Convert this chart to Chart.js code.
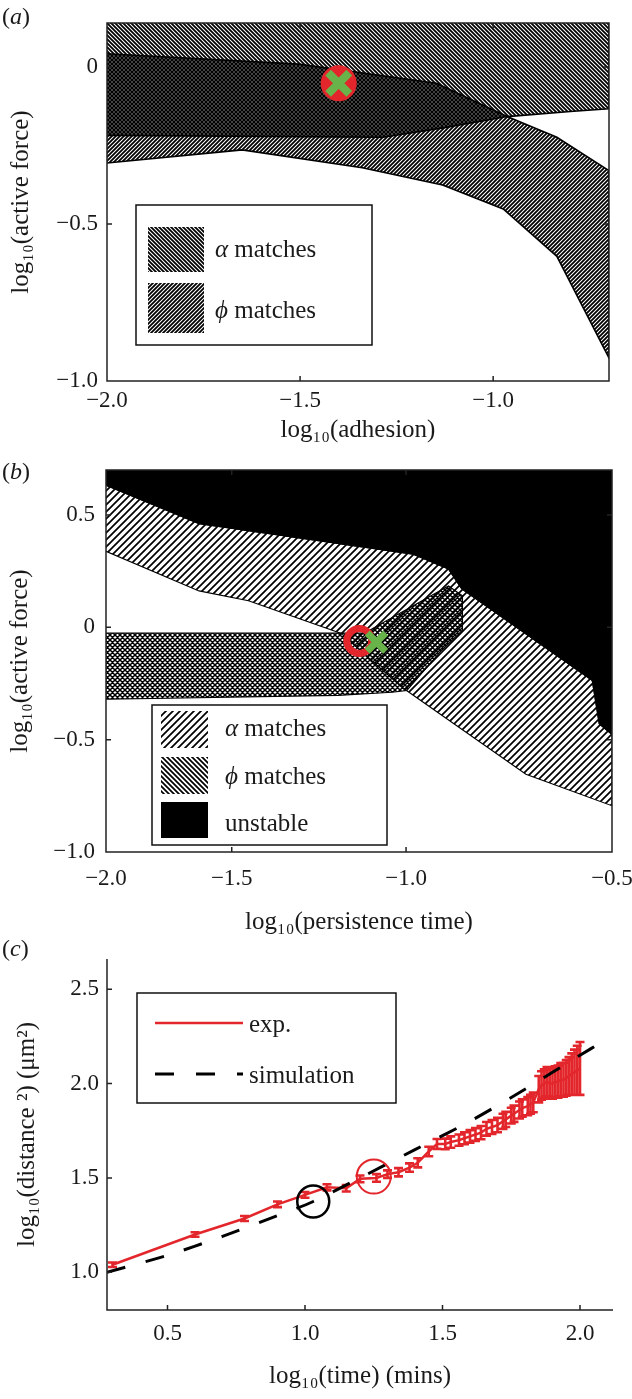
<!DOCTYPE html>
<html><head><meta charset="utf-8">
<script src="https://cdn.jsdelivr.net/npm/chart.js@4.4.1/dist/chart.umd.min.js"></script>
<style>
html,body{margin:0;padding:0;background:#fff;}
#wrap{position:relative;width:632px;height:1399px;overflow:hidden;background:#fff;}
canvas{position:absolute;left:0;}
</style></head><body>
<div id="wrap">
<canvas id="ca" width="632" height="450" style="top:0;width:632px;height:450px"></canvas>
<canvas id="cb" width="632" height="490" style="top:450px;width:632px;height:490px"></canvas>
<canvas id="cc" width="632" height="459" style="top:940px;width:632px;height:459px"></canvas>
</div>
<script>
// ---------------- Panel (a) data ----------------
const aAlphaX = [-2.0, -0.7, -0.7, -0.80, -0.964, -1.13, -1.285, -2.0];
const aAlphaY = [0.30, 0.30, -0.133, -0.142, -0.158, -0.194, -0.224, -0.218];
const aPhiX = [-2.0, -1.504, -1.147, -0.964, -0.835, -0.70, -0.70, -0.835, -0.974, -1.131, -1.339, -1.650, -2.0];
const aPhiY = [0.042, 0.009, -0.052, -0.158, -0.224, -0.330, -0.927, -0.603, -0.452, -0.376, -0.321, -0.264, -0.306];
const aMarkerX = [-1.40];
const aMarkerY = [-0.052];
const aXTicks = [-2.0, -1.5, -1.0];
const aXTickLabels = ['\u22122.0', '\u22121.5', '\u22121.0'];
const aYTicks = [-1.0, -0.5, 0];
const aYTickLabels = ['\u22121.0', '\u22120.5', '0'];

// ---------------- Panel (b) data ----------------
const bUnstableX = [-2.0, -1.630, -0.983, -0.897, -0.865, -0.548, -0.531, -0.5, -0.5, -2.0];
const bUnstableY = [0.632, 0.461, 0.325, 0.259, 0.171, -0.237, -0.430, -0.478, 0.80, 0.80];
const bAlphaX = [-2.0, -1.630, -0.983, -0.897, -0.865, -0.548, -0.531, -0.5, -0.5, -0.709, -1.011, -1.1875, -1.452, -1.630, -2.0];
const bAlphaY = [0.632, 0.461, 0.325, 0.259, 0.171, -0.237, -0.430, -0.478, -0.794, -0.654, -0.268, -0.026, 0.118, 0.162, 0.338];
const bPhiX = [-2.0, -1.12, -0.897, -0.863, -0.863, -0.913, -0.998, -1.040, -1.196, -2.0];
const bPhiY = [-0.026, -0.026, 0.184, 0.140, -0.013, -0.101, -0.281, -0.289, -0.303, -0.320];
const bRingX = [-1.134];
const bRingY = [-0.061];
const bCrossX = [-1.085];
const bCrossY = [-0.066];
const bXTicks = [-2.0, -1.5, -1.0, -0.5];
const bXTickLabels = ['\u22122.0', '\u22121.5', '\u22121.0', '\u22120.5'];
const bYTicks = [-1.0, -0.5, 0, 0.5];
const bYTickLabels = ['\u22121.0', '\u22120.5', '0', '0.5'];

// ---------------- Panel (c) data ----------------
const cExpX = [0.30, 0.60, 0.78, 0.90, 1.00, 1.08, 1.15, 1.20, 1.26, 1.30, 1.34, 1.38, 1.41, 1.45, 1.48, 1.51, 1.53, 1.56, 1.58, 1.60, 1.62, 1.64, 1.66, 1.68, 1.70, 1.72, 1.73, 1.75, 1.76, 1.78, 1.79, 1.81, 1.82, 1.83, 1.85, 1.86, 1.87, 1.88, 1.89, 1.90, 1.91, 1.92, 1.93, 1.94, 1.95, 1.96, 1.97, 1.98, 1.99, 2.00];
const cExpY = [1.04, 1.20, 1.285, 1.36, 1.41, 1.45, 1.445, 1.495, 1.50, 1.52, 1.53, 1.555, 1.58, 1.64, 1.68, 1.68, 1.69, 1.70, 1.71, 1.72, 1.73, 1.74, 1.76, 1.77, 1.78, 1.80, 1.81, 1.83, 1.84, 1.86, 1.87, 1.88, 1.89, 1.90, 1.97, 1.99, 2.00, 2.01, 2.00, 2.00, 2.01, 2.01, 2.02, 2.02, 2.03, 2.04, 2.05, 2.06, 2.07, 2.08];
const cExpErr = [0.012, 0.012, 0.013, 0.015, 0.015, 0.016, 0.017, 0.018, 0.02, 0.02, 0.022, 0.022, 0.024, 0.025, 0.026, 0.028, 0.03, 0.03, 0.032, 0.033, 0.034, 0.035, 0.036, 0.037, 0.038, 0.04, 0.04, 0.042, 0.043, 0.045, 0.046, 0.048, 0.05, 0.052, 0.07, 0.075, 0.075, 0.078, 0.08, 0.08, 0.082, 0.085, 0.088, 0.09, 0.095, 0.10, 0.11, 0.12, 0.13, 0.14];
const cSimX = [0.28, 0.50, 0.70, 0.90, 1.03, 1.20, 1.40, 1.60, 1.80, 2.00, 2.08];
const cSimY = [1.00, 1.09, 1.19, 1.30, 1.375, 1.50, 1.65, 1.80, 1.97, 2.15, 2.22];
const cBlackCircleX = [1.03];
const cBlackCircleY = [1.375];
const cRedCircleX = [1.25];
const cRedCircleY = [1.507];
const cXTicks = [0.5, 1.0, 1.5, 2.0];
const cXTickLabels = ['0.5', '1.0', '1.5', '2.0'];
const cYTicks = [1.0, 1.5, 2.0, 2.5];
const cYTickLabels = ['1.0', '1.5', '2.0', '2.5'];

// ---------------- styling helpers ----------------
const RED = '#e3262b', GREEN = '#68b34a', INK = '#1a1a1a';
const FAM = '"Liberation Serif", "Times New Roman", serif';
Chart.defaults.font.family = FAM;
Chart.defaults.color = INK;
Chart.defaults.animation = false;

const pts = (xs, ys) => xs.map((x, i) => ({x, y: ys[i]}));

function hatch(period, lw, dirs) {
  const c = document.createElement('canvas');
  c.width = c.height = period;
  const g = c.getContext('2d');
  g.strokeStyle = '#000';
  g.lineWidth = lw;
  g.beginPath();
  for (const d of dirs) {
    for (const k of [-1, 0, 1]) {
      const o = k * period;
      if (d === '\\') { g.moveTo(o - 1, -1); g.lineTo(o + period + 1, period + 1); }
      else { g.moveTo(o - 1, period + 1); g.lineTo(o + period + 1, -1); }
    }
  }
  g.stroke();
  return g.createPattern(c, 'repeat');
}

// piecewise-linear axis (panel b has uneven tick spacing)
class PiecewiseScale extends Chart.LinearScale {
  _frac(v) {
    const vals = this.options.breakpoints.values, fr = this.options.breakpoints.fractions;
    let i = 1;
    while (i < vals.length - 1 && v > vals[i]) i++;
    return fr[i - 1] + (v - vals[i - 1]) * (fr[i] - fr[i - 1]) / (vals[i] - vals[i - 1]);
  }
  getPixelForValue(value) {
    if (value === null || value === undefined || isNaN(value)) return NaN;
    return this.getPixelForDecimal(this._frac(value));
  }
  getValueForPixel(pixel) {
    const d = this.getDecimalForPixel(pixel);
    const vals = this.options.breakpoints.values, fr = this.options.breakpoints.fractions;
    let i = 1;
    while (i < fr.length - 1 && d > fr[i]) i++;
    return vals[i - 1] + (d - fr[i - 1]) * (vals[i] - vals[i - 1]) / (fr[i] - fr[i - 1]);
  }
}
PiecewiseScale.id = 'piecewise';
PiecewiseScale.defaults = {};
Chart.register(PiecewiseScale);

function axis(o) {
  const s = {
    type: o.type || 'linear',
    min: o.min, max: o.max,
    grid: {display: false, drawTicks: false},
    border: {display: false},
    ticks: {
      font: {size: 23}, color: INK, padding: o.tickPad,
      autoSkip: false, maxRotation: 0, minRotation: 0, includeBounds: false,
      callback: (v, i) => o.labels[i]
    },
    title: {display: true, text: o.title, font: {size: 25}, color: INK,
            padding: {top: o.titlePad, bottom: o.titlePad}},
    afterBuildTicks: sc => { sc.ticks = o.ticks.map(v => ({value: v})); },
    afterFit: sc => {
      if (o.horizontal) sc.height = o.size; else sc.width = o.size;
      sc.paddingTop = 0; sc.paddingBottom = 0; sc.paddingLeft = 0; sc.paddingRight = 0;
    }
  };
  if (o.breakpoints) s.breakpoints = o.breakpoints;
  return s;
}

// frame + inward ticks + panel letter + legend box
const decor = {
  id: 'decor',
  afterDatasetsDraw(chart, args, opts) {
    const {ctx, chartArea: a} = chart;
    const xs = chart.scales.x, ys = chart.scales.y;
    ctx.save();
    ctx.strokeStyle = '#222';
    ctx.lineWidth = 1.5;
    ctx.beginPath();
    if (opts.box) {
      ctx.rect(a.left, a.top, a.right - a.left, a.bottom - a.top);
    } else {
      ctx.moveTo(a.left, a.top); ctx.lineTo(a.left, a.bottom); ctx.lineTo(a.right, a.bottom);
    }
    const L = 5;
    for (const t of xs.ticks) {
      const p = xs.getPixelForValue(t.value);
      ctx.moveTo(p, a.bottom); ctx.lineTo(p, a.bottom - L);
      if (opts.box) { ctx.moveTo(p, a.top); ctx.lineTo(p, a.top + L); }
    }
    for (const t of ys.ticks) {
      const p = ys.getPixelForValue(t.value);
      ctx.moveTo(a.left, p); ctx.lineTo(a.left + L, p);
      if (opts.box) { ctx.moveTo(a.right, p); ctx.lineTo(a.right - L, p); }
    }
    ctx.stroke();
    ctx.restore();
  },
  afterDraw(chart, args, opts) {
    const {ctx} = chart;
    ctx.save();
    ctx.fillStyle = INK;
    ctx.textBaseline = 'alphabetic';
    // panel letter
    const [lx, ly] = opts.letterPos;
    ctx.font = '24px ' + FAM;
    ctx.fillText('(', lx, ly);
    let w = ctx.measureText('(').width;
    ctx.font = 'italic 24px ' + FAM;
    ctx.fillText(opts.letter, lx + w, ly);
    w += ctx.measureText(opts.letter).width;
    ctx.font = '24px ' + FAM;
    ctx.fillText(')', lx + w, ly);
    // legend
    const lg = opts.legend;
    ctx.fillStyle = '#fff';
    ctx.fillRect(lg.box[0], lg.box[1], lg.box[2], lg.box[3]);
    ctx.strokeStyle = '#111';
    ctx.lineWidth = 1.5;
    ctx.strokeRect(lg.box[0], lg.box[1], lg.box[2], lg.box[3]);
    for (const it of lg.items) {
      if (it.swatch) {
        ctx.fillStyle = it.fill;
        ctx.fillRect(it.swatch[0], it.swatch[1], it.swatch[2], it.swatch[3]);
      }
      if (it.line) {
        ctx.save();
        ctx.strokeStyle = it.color; ctx.lineWidth = it.width;
        ctx.setLineDash(it.dash || []);
        ctx.beginPath(); ctx.moveTo(it.line[0], it.line[1]); ctx.lineTo(it.line[2], it.line[1]); ctx.stroke();
        ctx.restore();
      }
      ctx.fillStyle = INK;
      let x = it.tx;
      if (it.greek) {
        ctx.font = 'italic 25px ' + FAM;
        ctx.fillText(it.greek, x, it.ty);
        x += ctx.measureText(it.greek + ' ').width;
      }
      ctx.font = '25px ' + FAM;
      ctx.fillText(it.text, x, it.ty);
    }
    ctx.restore();
  }
};

const errorBars = {
  id: 'errorBars',
  afterDatasetDraw(chart, args, opts) {
    if (!opts || args.index !== opts.datasetIndex) return;
    const {ctx} = chart;
    const xs = chart.scales.x, ys = chart.scales.y;
    ctx.save();
    ctx.strokeStyle = RED;
    ctx.lineWidth = 2.6;
    ctx.beginPath();
    cExpX.forEach((xv, i) => {
      const px = xs.getPixelForValue(xv);
      const top = ys.getPixelForValue(cExpY[i] + cExpErr[i]);
      const bot = ys.getPixelForValue(cExpY[i] - cExpErr[i]);
      ctx.moveTo(px, top); ctx.lineTo(px, bot);
      ctx.moveTo(px - 4.5, top); ctx.lineTo(px + 4.5, top);
      ctx.moveTo(px - 4.5, bot); ctx.lineTo(px + 4.5, bot);
    });
    ctx.stroke();
    ctx.restore();
  }
};

const baseOpts = {
  responsive: false,
  animation: false,
  events: [],
  plugins: {legend: {display: false}, tooltip: {enabled: false}}
};
const poly = (xs, ys, fill, bw) => ({
  data: pts(xs, ys), showLine: true, fill: 'shape', backgroundColor: fill,
  borderColor: '#000', borderWidth: bw, pointRadius: 0, tension: 0
});

// ---------------- patterns ----------------
const patAAlpha = hatch(4, 1.8, ['\\']);
const patAPhi = hatch(4, 1.8, ['/']);
const patBAlpha = hatch(7, 1.7, ['/']);
const patBPhi = hatch(5, 1.5, ['\\', '/']);
const patBPhiLegend = hatch(5, 1.7, ['\\']);

// ---------------- Chart (a) ----------------
new Chart(document.getElementById('ca'), {
  type: 'scatter',
  data: {datasets: [
    {data: pts(aMarkerX, aMarkerY), pointStyle: 'crossRot', pointRadius: 15, borderColor: GREEN, borderWidth: 8, backgroundColor: 'rgba(0,0,0,0)'},
    {data: pts(aMarkerX, aMarkerY), pointStyle: 'circle', pointRadius: 18, backgroundColor: RED, borderWidth: 0},
    poly(aPhiX, aPhiY, patAPhi, 1.6),
    poly(aAlphaX, aAlphaY, patAAlpha, 1.6)
  ]},
  options: Object.assign({}, baseOpts, {
    layout: {padding: {top: 6, right: 19, left: 0, bottom: 0}},
    scales: {
      x: axis({horizontal: true, min: -2.0, max: -0.7, ticks: aXTicks, labels: aXTickLabels, title: 'log\u2081\u2080(adhesion)', size: 69, tickPad: 6, titlePad: 5}),
      y: axis({min: -1.0, max: 0.14, ticks: aYTicks, labels: aYTickLabels, title: 'log\u2081\u2080(active force)', size: 107, tickPad: 9, titlePad: 6})
    },
    plugins: Object.assign({}, baseOpts.plugins, {
      decor: {box: true, letter: 'a', letterPos: [2, 24],
        legend: {box: [136, 205, 236, 140], items: [
          {swatch: [148, 227, 56, 45], fill: patAAlpha, greek: '\u03b1', text: 'matches', tx: 215, ty: 257},
          {swatch: [148, 283, 56, 50], fill: patAPhi, greek: '\u03d5', text: 'matches', tx: 215, ty: 318}
        ]}}
    })
  }),
  plugins: [decor]
});

// ---------------- Chart (b) ----------------
new Chart(document.getElementById('cb'), {
  type: 'scatter',
  data: {datasets: [
    {data: pts(bCrossX, bCrossY), pointStyle: 'crossRot', pointRadius: 13, borderColor: GREEN, borderWidth: 7, backgroundColor: 'rgba(0,0,0,0)'},
    {data: pts(bRingX, bRingY), pointStyle: 'circle', pointRadius: 12.5, borderColor: RED, borderWidth: 7, backgroundColor: 'rgba(0,0,0,0)'},
    poly(bPhiX, bPhiY, patBPhi, 1.1),
    poly(bAlphaX, bAlphaY, patBAlpha, 1.1),
    poly(bUnstableX, bUnstableY, '#000', 1)
  ]},
  options: Object.assign({}, baseOpts, {
    layout: {padding: {top: 14, right: 15, left: 0, bottom: 0}},
    scales: {
      x: axis({type: 'piecewise', horizontal: true, min: -2.0, max: -0.5, ticks: bXTicks, labels: bXTickLabels,
               breakpoints: {values: bXTicks, fractions: [0, 0.2485, 0.593, 1]},
               title: 'log\u2081\u2080(persistence time)', size: 88, tickPad: 13, titlePad: 3}),
      y: axis({min: -1.0, max: 0.7, ticks: bYTicks, labels: bYTickLabels, title: 'log\u2081\u2080(active force)', size: 106, tickPad: 11, titlePad: 5})
    },
    plugins: Object.assign({}, baseOpts.plugins, {
      decor: {box: true, letter: 'b', letterPos: [2, 29],
        legend: {box: [152, 255, 235, 140], items: [
          {swatch: [161, 261, 47, 37], fill: patBAlpha, greek: '\u03b1', text: 'matches', tx: 225, ty: 286},
          {swatch: [161, 307, 47, 37], fill: patBPhiLegend, greek: '\u03d5', text: 'matches', tx: 225, ty: 334},
          {swatch: [161, 352, 47, 36], fill: '#000', text: 'unstable', tx: 225, ty: 381}
        ]}}
    })
  }),
  plugins: [decor]
});

// ---------------- Chart (c) ----------------
new Chart(document.getElementById('cc'), {
  type: 'scatter',
  data: {datasets: [
    {data: pts(cBlackCircleX, cBlackCircleY), pointStyle: 'circle', pointRadius: 16, borderColor: '#000', borderWidth: 2.5, backgroundColor: 'rgba(0,0,0,0)'},
    {data: pts(cRedCircleX, cRedCircleY), pointStyle: 'circle', pointRadius: 17, borderColor: RED, borderWidth: 2, backgroundColor: 'rgba(0,0,0,0)'},
    {data: pts(cSimX, cSimY), showLine: true, borderColor: '#000', borderWidth: 3, borderDash: [19, 21], pointRadius: 0, tension: 0.3, fill: false},
    {data: pts(cExpX, cExpY), showLine: true, borderColor: RED, borderWidth: 2.5, pointRadius: 0, tension: 0, fill: false}
  ]},
  options: Object.assign({}, baseOpts, {
    layout: {padding: {top: 16, right: 15, left: 0, bottom: 0}},
    scales: {
      x: axis({horizontal: true, min: 0.28, max: 2.12, ticks: cXTicks, labels: cXTickLabels, title: 'log\u2081\u2080(time) (mins)', size: 89, tickPad: 10, titlePad: 8}),
      y: axis({min: 0.8, max: 2.66, ticks: cYTicks, labels: cYTickLabels, title: 'log\u2081\u2080(distance \u00b2) (\u03bcm\u00b2)', size: 107, tickPad: 8, titlePad: 12})
    },
    plugins: Object.assign({}, baseOpts.plugins, {
      errorBars: {datasetIndex: 3},
      decor: {box: false, letter: 'c', letterPos: [2, 16],
        legend: {box: [137, 53, 259, 110], items: [
          {line: [155, 83, 243], color: RED, width: 2.5, text: 'exp.', tx: 249, ty: 92},
          {line: [155, 134, 243], color: '#000', width: 3, dash: [19, 22], text: 'simulation', tx: 249, ty: 143}
        ]}}
    })
  }),
  plugins: [decor, errorBars]
});
</script>
</body></html>
